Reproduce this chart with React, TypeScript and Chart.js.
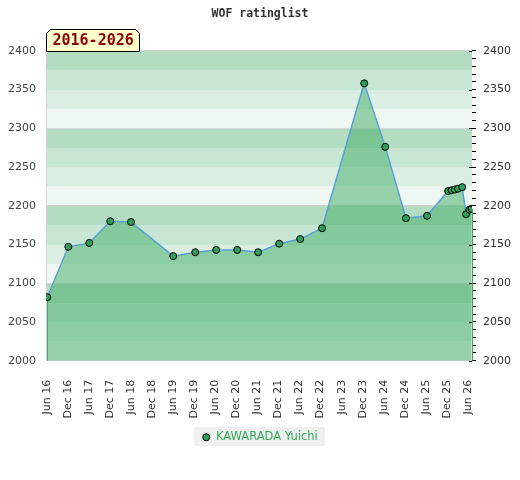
import { useEffect, useRef } from "react";
import { Chart, registerables } from "chart.js";

Chart.register(...registerables);

const chartTitle = "WOF ratinglist";
const periodLabel = "2016-2026";
const seriesName = "KAWARADA Yuichi";

// rating dates as months since Jan 2016 (5 = Jun 16, 11 = Dec 16, ...)
const ratingMonths = [
  5.17, 11.15, 17.12, 23.1, 29.0, 41.03, 47.3, 53.26, 59.24, 65.2, 71.2, 77.17,
  83.4, 95.4, 101.4, 107.3, 113.3, 119.3, 120.3, 121.2, 122.1, 123.3, 124.4,
  125.4, 126.0,
];
const ratings = [
  2082, 2147, 2152, 2180, 2179, 2135, 2140, 2143, 2143, 2140, 2151, 2157, 2171,
  2358, 2276, 2184, 2187, 2219, 2220, 2221, 2222, 2224, 2189, 2195, 2196,
];

const xTickMonths = [5, 11, 17, 23, 29, 35, 41, 47, 53, 59, 65, 71, 77, 83, 89, 95, 101, 107, 113, 119, 125];
const xTickLabels = [
  "Jun 16", "Dec 16", "Jun 17", "Dec 17", "Jun 18", "Dec 18", "Jun 19", "Dec 19",
  "Jun 20", "Dec 20", "Jun 21", "Dec 21", "Jun 22", "Dec 22", "Jun 23", "Dec 23",
  "Jun 24", "Dec 24", "Jun 25", "Dec 25", "Jun 26",
];
const xMin = 4.8;
const xMax = 126.1;
const yMin = 2000;
const yMax = 2400;

const FONT = "'DejaVu Sans', sans-serif";
const MONO = "'DejaVu Sans Mono', monospace";

export default function App() {
  const ref = useRef<HTMLCanvasElement | null>(null);

  useEffect(() => {
    if (!ref.current) return;
    const bandColors = ["#b3dcc3", "#c7e6d3", "#dbeee2", "#eff7f2"];
    const pointColor = "#2f9e58";

    const backgroundPlugin = {
      id: "bgBands",
      beforeDraw(chart: any) {
        const { ctx, chartArea: a, scales } = chart;
        const y = scales.y;
        ctx.save();
        let i = 0;
        for (let v = yMax; v > yMin; v -= 25, i++) {
          const top = Math.round(y.getPixelForValue(v));
          const bot = Math.round(y.getPixelForValue(v - 25));
          ctx.fillStyle = bandColors[i % 4];
          ctx.fillRect(a.left, top, a.right - a.left, bot - top);
        }
        // legend background
        const lg = chart.legend;
        if (lg && lg.legendHitBoxes && lg.legendHitBoxes.length) {
          const hb = lg.legendHitBoxes[0];
          const cy = hb.top + hb.height / 2;
          ctx.fillStyle = "#f0f0f0";
          ctx.fillRect(Math.round(hb.left - 8), Math.round(cy - 10), Math.round(hb.width + 16), 19);
        }
        ctx.restore();
      },
      beforeDatasetsDraw(chart: any) {
        const { ctx, scales } = chart;
        const meta = chart.getDatasetMeta(0);
        const pts = meta.data;
        if (!pts.length) return;
        const bottom = scales.y.getPixelForValue(yMin);
        ctx.save();
        ctx.strokeStyle = "#3da35d";
        ctx.lineWidth = 1;
        for (const p of [pts[0], pts[pts.length - 1]]) {
          const x = Math.round(p.x) + 0.5;
          ctx.beginPath();
          ctx.moveTo(x, p.y);
          ctx.lineTo(x, bottom);
          ctx.stroke();
        }
        ctx.restore();
      },
      afterDraw(chart: any) {
        const { ctx, chartArea: a, scales } = chart;
        const y2 = scales.y2;
        ctx.save();
        // inward extension of the major right-axis ticks
        ctx.strokeStyle = "#000";
        ctx.lineWidth = 1;
        for (let v = yMin; v <= yMax; v += 50) {
          const py = Math.round(y2.getPixelForValue(v)) + 0.5;
          ctx.beginPath();
          ctx.moveTo(a.right - 3, py);
          ctx.lineTo(a.right, py);
          ctx.stroke();
        }
        // period badge
        ctx.font = `bold 15px ${MONO}`;
        const tw = ctx.measureText(periodLabel).width;
        const l = Math.round(a.left) + 0.5;
        const r = l + Math.round(tw + 12);
        const b = Math.round(a.top) + 0.5;
        const t = b - 22;
        const c = 4;
        ctx.beginPath();
        ctx.moveTo(l, b);
        ctx.lineTo(l, t + c);
        ctx.lineTo(l + c, t);
        ctx.lineTo(r - c, t);
        ctx.lineTo(r, t + c);
        ctx.lineTo(r, b);
        ctx.closePath();
        ctx.fillStyle = "#ffffcc";
        ctx.fill();
        ctx.strokeStyle = "#000";
        ctx.stroke();
        ctx.fillStyle = "#8b0000";
        ctx.textBaseline = "middle";
        ctx.textAlign = "left";
        ctx.fillText(periodLabel, l + 6, (t + b) / 2 + 1);
        ctx.restore();
      },
    };

    const chart = new Chart(ref.current, {
      type: "line",
      data: {
        datasets: [
          {
            label: seriesName,
            data: ratingMonths.map((m, i) => ({ x: m, y: ratings[i] })),
            borderColor: "#5aa0d8",
            borderWidth: 1.5,
            backgroundColor: "rgba(77,179,111,0.55)",
            fill: "start",
            tension: 0,
            pointRadius: 3.5,
            pointHoverRadius: 3.5,
            pointBackgroundColor: pointColor,
            pointBorderColor: "#000",
            pointBorderWidth: 1,
          },
        ],
      },
      options: {
        animation: false,
        responsive: false,
        layout: { padding: { left: 0, right: 0, top: 0, bottom: 27 } },
        scales: {
          x: {
            type: "linear",
            min: xMin,
            max: xMax,
            afterBuildTicks: (s: any) => {
              s.ticks = xTickMonths.map((v) => ({ value: v }));
            },
            ticks: {
              autoSkip: false,
              minRotation: 90,
              maxRotation: 90,
              color: "#333",
              font: { family: FONT, size: 11 },
              padding: 11,
              callback: (_v: any, i: number) => xTickLabels[i],
            },
            grid: { display: false },
            border: { display: false },
            afterFit: (s: any) => {
              s.height = s.height - 8;
            },
          },
          y: {
            position: "left",
            min: yMin,
            max: yMax,
            ticks: {
              stepSize: 50,
              color: "#444",
              font: { family: FONT, size: 11 },
              padding: 10,
              callback: (v: any) => String(v),
            },
            grid: {
              drawTicks: false,
              color: (c: any) => (c.tick && c.tick.value % 100 === 0 ? "#d4d4d4" : "rgba(0,0,0,0)"),
            },
            border: { color: "#d4d4d4" },
            afterFit: (s: any) => {
              s.width = 46;
            },
          },
          y2: {
            position: "right",
            min: yMin,
            max: yMax,
            ticks: {
              stepSize: 10,
              autoSkip: false,
              color: "#333",
              font: { family: FONT, size: 11 },
              padding: 7,
              callback: (v: any) => (Number(v) % 50 === 0 ? String(v) : ""),
            },
            grid: { drawOnChartArea: false, tickLength: 4, color: "#000" },
            border: { display: false },
            afterFit: (s: any) => {
              s.width = 48;
            },
          },
        },
        plugins: {
          title: {
            display: true,
            text: chartTitle,
            color: "#333",
            font: { family: MONO, size: 11.5, weight: "bold", lineHeight: 1.2 },
            padding: { top: 7, bottom: 30 },
          },
          legend: {
            position: "bottom",
            labels: {
              usePointStyle: true,
              boxWidth: 8,
              boxHeight: 5,
              color: "#33a85a",
              font: { family: FONT, size: 11.5 },
              generateLabels: () => [
                {
                  text: seriesName,
                  fillStyle: pointColor,
                  strokeStyle: "#000",
                  lineWidth: 1,
                  pointStyle: "circle",
                  hidden: false,
                  datasetIndex: 0,
                  fontColor: "#33a85a",
                } as any,
              ],
            },
          },
          tooltip: { enabled: false },
        },
      } as any,
      plugins: [backgroundPlugin],
    });
    return () => chart.destroy();
  }, []);

  return (
    <div style={{ position: "fixed", left: 0, top: 0, width: 520, height: 480, background: "#fff" }}>
      <canvas ref={ref} width={520} height={480} style={{ width: 520, height: 480, display: "block" }} />
    </div>
  );
}
